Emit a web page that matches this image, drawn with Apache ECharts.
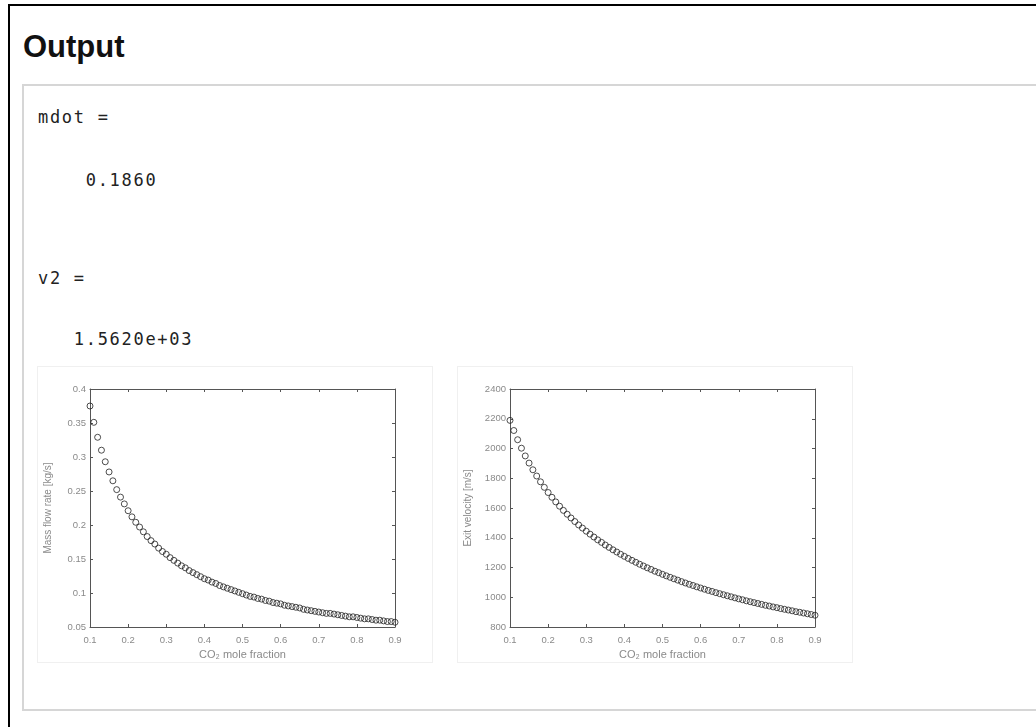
<!DOCTYPE html>
<html>
<head>
<meta charset="utf-8">
<script src="https://cdn.jsdelivr.net/npm/echarts@6/dist/echarts.min.js"></script>
<style>
  html, body { margin: 0; padding: 0; background: #fff; width: 1036px; height: 727px; overflow: hidden; }
  .frame { position: absolute; left: 8px; top: 4px; width: 1100px; height: 800px; border: 2px solid #000; box-sizing: border-box; }
  .title { position: absolute; left: 23px; top: 29px; font: bold 31px 'Liberation Sans', Arial, sans-serif; color: #111; }
  .box { position: absolute; left: 22px; top: 84px; width: 1100px; height: 627px; border: 2px solid #d6d6d6; box-sizing: border-box; }
  .mono { position: absolute; font: 17px 'DejaVu Sans Mono', monospace; letter-spacing: 1.7px; color: #222; line-height: 20px; white-space: pre; }
  .panel { position: absolute; top: 366px; width: 396px; height: 297px; border: 1px solid #f0f0f0; box-sizing: border-box; }
</style>
</head>
<body>
<div class="frame"></div>
<div class="title">Output</div>
<div class="box"></div>
<div class="mono" style="left:38px; top:107px">mdot =</div>
<div class="mono" style="left:38px; top:170px">    0.1860</div>
<div class="mono" style="left:38px; top:268px">v2 =</div>
<div class="mono" style="left:38px; top:329px">   1.5620e+03</div>
<div id="c1" class="panel" style="left:37px"></div>
<div id="c2" class="panel" style="left:457px"></div>

<script>
// CO2 mole fraction
var xs = [0.10, 0.11, 0.12, 0.13, 0.14, 0.15, 0.16, 0.17, 0.18, 0.19,
  0.20, 0.21, 0.22, 0.23, 0.24, 0.25, 0.26, 0.27, 0.28, 0.29,
  0.30, 0.31, 0.32, 0.33, 0.34, 0.35, 0.36, 0.37, 0.38, 0.39,
  0.40, 0.41, 0.42, 0.43, 0.44, 0.45, 0.46, 0.47, 0.48, 0.49,
  0.50, 0.51, 0.52, 0.53, 0.54, 0.55, 0.56, 0.57, 0.58, 0.59,
  0.60, 0.61, 0.62, 0.63, 0.64, 0.65, 0.66, 0.67, 0.68, 0.69,
  0.70, 0.71, 0.72, 0.73, 0.74, 0.75, 0.76, 0.77, 0.78, 0.79,
  0.80, 0.81, 0.82, 0.83, 0.84, 0.85, 0.86, 0.87, 0.88, 0.89, 0.90]

// mass flow rate [kg/s]
var mdot = [0.375, 0.351, 0.329, 0.310, 0.293, 0.278, 0.265, 0.252, 0.241, 0.231,
  0.221, 0.212, 0.204, 0.197, 0.190, 0.183, 0.177, 0.172, 0.166, 0.161,
  0.157, 0.152, 0.148, 0.144, 0.140, 0.137, 0.133, 0.130, 0.127, 0.124,
  0.121, 0.119, 0.116, 0.114, 0.111, 0.109, 0.107, 0.105, 0.103, 0.101,
  0.099, 0.097, 0.095, 0.094, 0.092, 0.091, 0.089, 0.088, 0.086, 0.085,
  0.084, 0.082, 0.081, 0.080, 0.079, 0.078, 0.076, 0.075, 0.074, 0.073,
  0.072, 0.071, 0.070, 0.070, 0.069, 0.068, 0.067, 0.066, 0.065, 0.065,
  0.064, 0.063, 0.062, 0.062, 0.061, 0.060, 0.060, 0.059, 0.058, 0.058, 0.057]

// exit velocity [m/s]
var v2 = [2189, 2121, 2059, 2002, 1950, 1902, 1857, 1815, 1776, 1739,
  1704, 1672, 1641, 1612, 1584, 1558, 1533, 1509, 1486, 1465,
  1444, 1424, 1405, 1386, 1369, 1351, 1335, 1319, 1304, 1289,
  1275, 1261, 1248, 1235, 1222, 1210, 1198, 1187, 1175, 1165,
  1154, 1144, 1134, 1124, 1115, 1105, 1096, 1087, 1079, 1070,
  1062, 1054, 1046, 1039, 1031, 1024, 1017, 1010, 1003, 996,
  989, 983, 976, 970, 964, 958, 952, 946, 941, 935,
  930, 924, 919, 914, 909, 903, 899, 894, 889, 884, 879]

var xLabel = 'CO₂ mole fraction'
var yLabels = ['Mass flow rate [kg/s]', 'Exit velocity [m/s]']

function pairs(ys) {
  return xs.map(function (x, i) { return [x, ys[i]] })
}

function makeOption(ys, yName, yMin, yMax, yStep) {
  var axisColor = '#555'
  var textColor = '#8a8a8a'
  var font = 'Liberation Sans'
  var tick = { show: true, inside: true, length: 3, lineStyle: { color: axisColor } }
  var line = { show: true, onZero: false, lineStyle: { color: axisColor, width: 1 } }
  var plain = function (v) { return String(+v.toFixed(2)) }
  return {
    animation: false,
    grid: { left: 52, top: 22, right: 37, bottom: 35, outerBoundsMode: 'none' },
    xAxis: [{
      type: 'value', min: 0.1, max: 0.9, interval: 0.1,
      axisLine: line, axisTick: tick, splitLine: { show: false },
      axisLabel: { margin: 8, color: textColor, fontSize: 9.5, fontFamily: font, formatter: plain },
      name: xLabel, nameLocation: 'middle', nameGap: 21,
      nameTextStyle: { color: textColor, fontSize: 11, fontFamily: font }
    }, {
      type: 'value', position: 'top', min: 0.1, max: 0.9, interval: 0.1,
      axisLine: line, axisTick: tick, splitLine: { show: false },
      axisLabel: { show: false }
    }],
    yAxis: [{
      type: 'value', min: yMin, max: yMax, interval: yStep,
      axisLine: line, axisTick: tick, splitLine: { show: false },
      axisLabel: { margin: 4, color: textColor, fontSize: 9.5, fontFamily: font, formatter: plain },
      name: yName, nameLocation: 'middle', nameGap: 37,
      nameTextStyle: { color: textColor, fontSize: 10, fontFamily: font }
    }, {
      type: 'value', position: 'right', min: yMin, max: yMax, interval: yStep,
      axisLine: line, axisTick: tick, splitLine: { show: false },
      axisLabel: { show: false }
    }],
    series: [{
      type: 'scatter',
      xAxisIndex: 0,
      yAxisIndex: 0,
      symbol: 'circle',
      symbolSize: 6,
      itemStyle: { color: 'rgba(0,0,0,0)', borderColor: '#222', borderWidth: 1 },
      data: pairs(ys)
    }]
  }
}

var chart1 = echarts.init(document.getElementById('c1'))
chart1.setOption(makeOption(mdot, yLabels[0], 0.05, 0.4, 0.05))
var chart2 = echarts.init(document.getElementById('c2'))
chart2.setOption(makeOption(v2, yLabels[1], 800, 2400, 200))
</script>
</body>
</html>
